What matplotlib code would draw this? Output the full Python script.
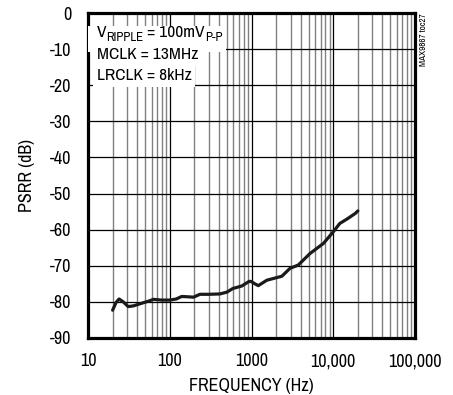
import matplotlib
matplotlib.use("Agg")
import matplotlib.pyplot as plt
from matplotlib.ticker import FixedLocator, LogLocator, NullFormatter
from matplotlib.patches import Rectangle
from matplotlib import font_manager as fm

avail = set(f.name for f in fm.fontManager.ttflist)
FONT = next((n for n in ['Archivo Narrow', 'Roboto Condensed', 'DejaVu Sans'] if n in avail),
            'DejaVu Sans')
plt.rcParams['font.family'] = [FONT, 'DejaVu Sans']

freq_hz = [20, 22, 24, 27, 31, 36, 45, 55, 63, 80, 100, 120, 140, 170, 195, 234, 300, 410,
           500, 590, 760, 940, 1000, 1100, 1210, 1540, 2350, 2960, 3730, 5200, 7590,
           10000, 12000, 15100, 18600, 20000]
psrr_db = [-82.3, -80.2, -79.2, -80.0, -81.3, -81.1, -80.4, -79.8, -79.3, -79.5, -79.5, -79.2,
           -78.5, -78.6, -78.7, -77.9, -77.9, -77.8, -77.3, -76.3, -75.6, -74.3, -74.4, -75.0,
           -75.5, -74.0, -72.9, -70.7, -69.8, -66.6, -63.8, -60.6, -58.3, -56.9, -55.5, -54.8]

x_ticks = [10, 100, 1000, 10000, 100000]
x_labels = ['10', '100', '1000', '10,000', '100,000']
y_ticks = [0, -10, -20, -30, -40, -50, -60, -70, -80, -90]
y_labels = ['0', '-10', '-20', '-30', '-40', '-50', '-60', '-70', '-80', '-90']

FS = 13
FA = 12.5
fig = plt.figure(figsize=(4.53, 3.95), dpi=100)
ax = fig.add_axes([88/453, 1-338/395, (415-88)/453, (338-13)/395])
ax.set_xscale('log')
ax.set_xlim(10, 100000)
ax.set_ylim(-90, 0)

ax.xaxis.set_major_locator(FixedLocator(x_ticks))
ax.set_xticklabels(x_labels)
ax.xaxis.set_minor_locator(LogLocator(base=10, subs=range(2, 10)))
ax.xaxis.set_minor_formatter(NullFormatter())
ax.set_yticks(y_ticks)
ax.set_yticklabels(y_labels)

ax.grid(True, which='major', axis='both', color='black', linewidth=0.9, zorder=1)
ax.grid(True, which='minor', axis='x', color='#808080', linewidth=1.0, zorder=1)
ax.tick_params(which='both', length=0, labelsize=FS)
ax.tick_params(axis='y', pad=12)
ax.tick_params(axis='x', pad=11)
for s in ax.spines.values():
    s.set_linewidth(2.3)
    s.set_zorder(5)

ax.plot(freq_hz, psrr_db, color='#1a1a1a', linewidth=2.3, solid_capstyle='round', zorder=4)

ax.set_xlabel('FREQUENCY (Hz)', fontsize=FS, labelpad=6)
ax.set_ylabel('PSRR (dB)', fontsize=FS, labelpad=11)

fig.canvas.draw()
r = fig.canvas.get_renderer()
x0 = 0.027
pieces = [('V', 0, FA), ('RIPPLE', -0.01, FA*0.74), (' = 100mV', 0, FA), ('P-P', -0.01, FA*0.74)]
x = x0
y1 = 0.925
for s, dy, fs in pieces:
    t = ax.text(x, y1 + dy, s, transform=ax.transAxes, fontsize=fs, va='baseline', zorder=7)
    wa = t.get_window_extent(r).transformed(ax.transAxes.inverted())
    x = wa.x1
ax.add_patch(Rectangle((0, y1 - 0.045), x + 0.01, 0.08, transform=ax.transAxes,
                       facecolor='white', edgecolor='none', zorder=6))
bb = dict(facecolor='white', edgecolor='none', pad=2.5)
ax.text(x0, 0.858, 'MCLK = 13MHz', transform=ax.transAxes, fontsize=FA,
        va='baseline', bbox=bb, zorder=6)
ax.text(x0, 0.793, 'LRCLK = 8kHz', transform=ax.transAxes, fontsize=FA,
        va='baseline', bbox=bb, zorder=6)

fig.text(424/453, 1-13/395, 'MAX9867 toc27', rotation=90, fontsize=6.5,
         ha='center', va='top')

fig.savefig('out.png', dpi=100)
